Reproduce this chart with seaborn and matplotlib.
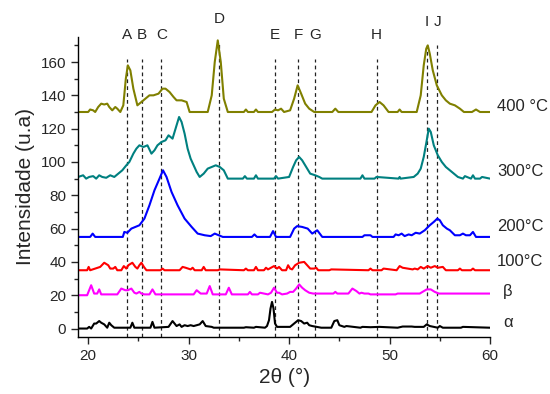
import matplotlib
matplotlib.use("Agg")
import matplotlib.pyplot as plt
from matplotlib.ticker import MultipleLocator
import seaborn as sns
import pandas as pd

# ---- data (2theta, intensity) ----
pts_400 = [(19,130),(20.0,130),(20.2,131.5),(20.5,131),(20.7,130),(21.0,133),(21.3,135),(21.6,134.5),
           (21.9,135),(22.1,133),(22.4,131),(22.7,133),(22.9,132),(23.2,130),(23.5,134),(23.75,150),
           (23.95,158),(24.2,155),(24.5,144),(24.9,134),(25.3,136),(25.7,138),(26.1,140),(26.5,140),
           (27.0,141),(27.4,144),(27.7,144),(28.1,142),(28.5,139),(28.8,137),(29.3,137),(29.8,136),
           (30.1,130),(31.9,130),(32.3,140),(32.6,160),(32.9,173),(33.2,160),(33.5,138),(33.9,130),
           (35.5,130),(35.7,131.5),(35.9,130),(36.5,130),(36.7,131.5),(36.9,130),(38.3,130),(38.6,131.5),
           (38.9,131),(39.2,132),(39.5,130),(40.1,131),(40.5,138),(40.85,146),(41.2,141),(41.6,135),
           (42.0,132),(42.5,130),(44.3,130),(44.6,132),(44.9,130),(48.2,130),(48.6,134),(49.0,136),
           (49.4,134),(49.9,130),(50.8,130),(51.0,131.5),(51.2,130),(52.7,130),(53.1,140),(53.4,158),
           (53.65,168),(53.8,170),(54.0,165),(54.3,155),(54.7,146),(55.2,140),(55.6,137),(56.0,135),
           (56.5,134),(57.0,132),(57.4,130),(58.2,130),(58.6,131.5),(59.0,130),(60,130)]

pts_300 = [(19,91),(19.5,92),(19.8,90),(20.1,91),(20.5,91.5),(20.8,90),(21.1,92),(21.4,91),(21.8,90.5),
           (22.2,92),(22.6,91),(23.0,93),(23.4,95),(23.8,98),(24.1,100),(24.5,105),(24.8,108),(25.1,110),
           (25.5,109),(25.9,110),(26.3,105),(26.6,107),(26.9,110),(27.3,112),(27.7,113),(28.0,116),
           (28.4,114),(28.7,120),(29.05,127),(29.3,124),(29.6,117),(29.9,108),(30.2,102),(30.5,98),
           (30.8,94),(31.1,91),(31.5,93),(31.9,96),(32.3,97),(32.7,98),(33.1,97),(33.5,95),(33.9,90),
           (35.4,90),(35.6,91.5),(35.8,90),(36.5,90),(36.7,92),(36.9,90),(38.5,90),(38.7,91.5),(38.9,90),
           (40.0,91),(40.4,97),(40.7,101),(41.0,103),(41.3,101),(41.7,97),(42.1,93),(42.6,92),(43.0,91),
           (43.3,90),(47.1,90),(47.3,92),(47.5,90),(48.5,90),(48.7,91),(50.9,90),(51.0,91),(51.1,90),
           (52.4,91),(52.8,93),(53.1,96),(53.4,103),(53.7,113),(53.9,120),(54.1,118),(54.4,110),
           (54.8,104),(55.2,100),(55.6,97),(56.0,95),(56.4,93),(56.8,91),(57.3,90),(57.5,91.5),(58.1,90),
           (58.3,92),(58.5,90),(59.0,90),(59.2,91),(60,90)]

pts_200 = [(19,55),(20.2,55),(20.45,57),(20.7,55),(23.45,55),(23.6,58),(23.9,57.5),(24.3,60),(24.7,61),
           (25.1,62),(25.6,66),(26.1,74),(26.6,83),(27.1,90),(27.45,95),(27.8,91),(28.3,82),(28.9,74),
           (29.6,66),(30.3,61),(30.9,57),(31.6,56),(32.2,55.5),(32.6,57),(33.0,56),(33.4,55),(36.3,55),
           (36.55,56.5),(36.8,55),(38.1,55),(38.4,58.5),(38.7,55),(40.1,55),(40.5,60),(40.8,61.5),
           (41.3,61),(41.85,60),(42.3,57),(42.8,59),(43.3,55),(47.3,55),(47.5,56),(48.1,56),(48.3,55),
           (50.4,55),(50.6,56.5),(50.9,56),(51.2,57),(51.5,55.5),(51.9,56.5),(52.2,56),(52.6,57.5),
           (53.0,57),(53.5,59),(54.0,62),(54.4,64),(54.75,66),(55.0,65),(55.3,62),(55.7,60),(56.0,59),
           (56.5,56),(57.0,56),(57.3,57),(57.6,56),(58.0,56),(58.3,58),(58.6,55),(60,55)]

pts_100 = [(19,35),(19.9,35),(20.05,37),(20.2,35),(21.2,37),(21.6,39.5),(22.0,38),(22.2,36),(22.5,36),
           (22.7,37),(22.9,35),(23.3,35),(23.55,37.5),(23.8,36),(24.0,38),(24.4,39.5),(24.7,37),(24.9,36),
           (25.1,38),(25.3,39.5),(25.55,37),(25.8,35),(27.2,35),(27.4,36),(27.6,35),(29.1,35),(29.4,37),
           (29.7,36.5),(30.2,35.5),(30.4,36.5),(30.6,35),(31.3,35),(31.5,37),(31.7,35),(32.9,35),
           (33.1,35.5),(35.5,35),(35.7,36),(35.9,35),(36.5,35),(36.7,37),(36.9,35),(37.5,35),(37.7,36.5),
           (37.9,35.5),(38.2,36.5),(38.5,37.5),(38.8,36),(39.0,37),(39.3,35),(39.7,35),(39.9,38),(40.1,36),
           (40.3,35.5),(40.6,38),(41.0,39.5),(41.5,40),(41.8,38),(42.1,36),(42.5,36),(42.7,36.5),(42.9,35),
           (44.0,35),(44.2,35.5),(47.9,35),(48.1,36),(48.3,35),(49.2,35),(49.4,36),(50.7,35),(51.0,37.5),
           (51.3,36.5),(52.3,35.5),(52.5,36),(52.8,35.5),(53.1,37),(53.4,36),(53.8,37.5),(54.1,36.5),
           (54.5,37.5),(54.8,36.5),(55.3,37),(55.6,35),(56.8,35),(57.0,36),(57.2,35),(58.1,35),(58.3,36),
           (58.5,35),(60,35)]

pts_beta = [(19,20),(19.9,20),(20.3,26),(20.6,21),(20.9,21),(21.1,23.5),(21.3,20.5),(22.9,20.5),(23.3,24),
            (23.7,23),(23.95,23),(24.3,24),(24.6,21.5),(24.8,21),(25.1,22),(25.3,21),(25.6,20.5),
            (26.1,20.5),(26.4,23.5),(26.7,20.5),(30.5,20.5),(30.8,23),(31.2,21),(31.8,21),(32.1,25.5),
            (32.4,20.5),(33.7,20.5),(34.0,24.5),(34.3,20.5),(35.9,20.5),(36.1,22),(36.3,20.5),(36.9,20.5),
            (37.1,21.5),(37.9,20.5),(38.2,21.5),(38.5,24.5),(38.8,21.5),(39.0,21.5),(39.3,20.5),(39.8,21),
            (40.1,22),(40.4,22),(40.7,24),(41.0,26.5),(41.3,24.5),(41.6,23),(42.0,21.5),(42.4,21),(44.4,21),
            (44.6,22),(44.8,21),(45.9,21),(46.3,24),(46.7,22.5),(47.0,21),(47.2,21.5),(47.5,21),(47.9,21),
            (48.1,20.5),(50.6,20.5),(50.8,21),(53.0,21),(53.7,23.5),(54.1,23.5),(54.5,22),(54.9,21),
            (59.1,21),(59.3,21),(60,21)]

pts_alpha = [(19,0),(19.9,0),(20.1,1),(20.3,0),(20.6,3),(20.8,3),(21.1,4.5),(21.3,3.5),(21.6,2.5),
             (21.9,0.5),(22.1,3.5),(22.3,2),(22.6,0.5),(24.2,0.5),(24.4,3.5),(24.6,0.5),(26.2,0.5),
             (26.4,4),(26.6,0.5),(28.0,1),(28.4,4.5),(28.8,1.5),(29.1,2.5),(29.3,1),(29.6,2),(29.9,1.5),
             (30.2,2),(30.5,1.5),(30.8,2),(31.1,2.5),(31.4,4.5),(31.7,1.5),(32.3,1),(32.5,0.5),(35.5,0.5),
             (35.7,0.8),(36.5,0.5),(36.7,1),(37.6,0.5),(37.8,1.5),(38.0,5),(38.15,12),(38.3,16),(38.45,12),
             (38.6,3),(38.8,1),(40.1,1),(40.4,2.5),(40.7,4),(40.9,5),(41.2,4.5),(41.5,3),(41.8,3.5),(42.0,2),
             (42.3,1.5),(43.2,0.5),(44.2,0.5),(44.5,4.5),(44.8,5),(45.0,2),(45.5,1),(45.7,1.5),(47.1,0.5),
             (47.3,1),(48.1,0.8),(49.0,1),(50.8,0.5),(51.3,1.2),(52.2,1.2),(52.5,1),(53.4,1),(53.7,2.5),
             (54.0,1.5),(54.8,0.5),(55.0,1.5),(55.3,0.5),(57.1,0.5),(57.3,1),(60,0.5)]

series_names = ["400 °C", "300°C", "200°C", "100°C", "β", "α"]
series_points = [pts_400, pts_300, pts_200, pts_100, pts_beta, pts_alpha]
series_colors = ["#808000", "#008080", "#0000FF", "#FF0000", "#FF00FF", "#000000"]
label_y = [133.5, 94, 61, 40, 22, 3.5]

peak_labels = ["A", "B", "C", "D", "E", "F", "G", "H", "I", "J"]
peak_pos = [23.85, 25.35, 27.3, 33.0, 38.6, 40.9, 42.6, 48.7, 53.7, 54.75]
line_top = [162, 162, 162, 172, 162, 162, 162, 162, 170, 170]
label_top = [176, 176, 176, 186, 176, 176, 176, 176, 184, 184]

# ---- build table ----
rows = []
for name, pts in zip(series_names, series_points):
    for x, y in pts:
        rows.append({"theta": x, "I": y, "s": name})
df = pd.DataFrame(rows)

sns.set_style("ticks")
plt.rcParams["font.family"] = ["Liberation Sans", "DejaVu Sans"]

fig = plt.figure(figsize=(5.5, 3.94), dpi=100)
ax = fig.add_axes([0.142, 0.145, 0.749, 0.761])

ax.vlines(peak_pos, -5, line_top, colors="#222222", linestyles=(0, (3, 2.5)), linewidth=0.9, zorder=1)

sns.lineplot(data=df, x="theta", y="I", hue="s", palette=dict(zip(series_names, series_colors)),
             estimator=None, sort=False, linewidth=1.5, legend=False, ax=ax, zorder=2)

for lab, xp, yt in zip(peak_labels, peak_pos, label_top):
    ax.text(xp, yt, lab, ha="center", va="center", fontsize=11, clip_on=False)

for name, yl in zip(series_names, label_y):
    xx = 60.7 if len(name) > 1 else 61.3
    ax.text(xx, yl, name, ha="left", va="center", fontsize=12, clip_on=False)

ax.set_xlim(19, 60)
ax.set_ylim(-5, 175)
ax.xaxis.set_major_locator(MultipleLocator(10))
ax.xaxis.set_minor_locator(MultipleLocator(5))
ax.yaxis.set_major_locator(MultipleLocator(20))
ax.yaxis.set_minor_locator(MultipleLocator(10))
ax.set_yticks([0, 20, 40, 60, 80, 100, 120, 140, 160])
ax.tick_params(axis="both", which="major", length=5, width=1, labelsize=11, direction="out")
ax.tick_params(axis="both", which="minor", length=3, width=1, direction="out")
ax.set_xlabel("2θ (°)", fontsize=15)
ax.set_ylabel("Intensidade (u.a)", fontsize=15)
sns.despine(ax=ax)
for sp in ["left", "bottom"]:
    ax.spines[sp].set_linewidth(1.0)
    ax.spines[sp].set_color("black")

fig.savefig("out.png", dpi=100)
